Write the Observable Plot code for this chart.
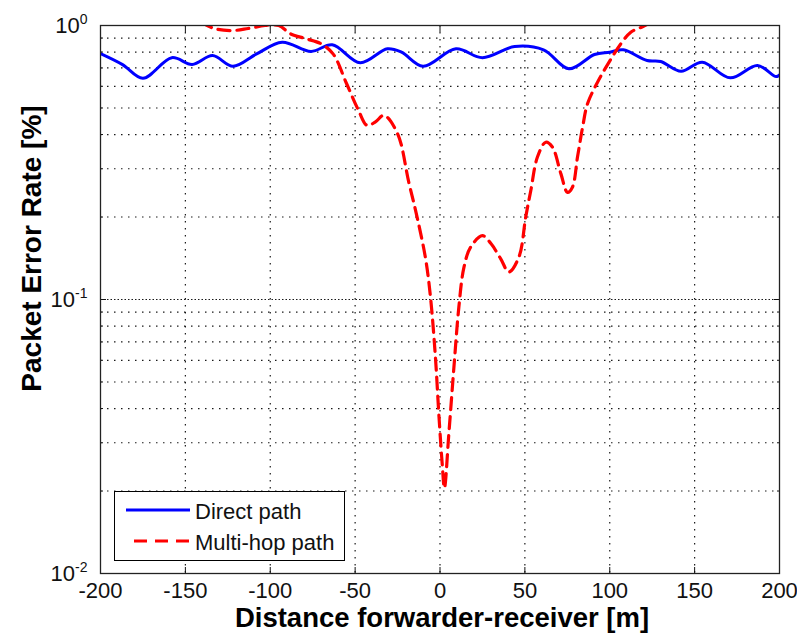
<!DOCTYPE html>
<html><head><meta charset="utf-8">
<script src="https://cdn.jsdelivr.net/npm/d3@7"></script>
<script src="https://cdn.jsdelivr.net/npm/@observablehq/plot@0.6"></script>
<style>
body{margin:0;background:#fff;font-family:"Liberation Sans",Arial,sans-serif;}
#wrap{position:relative;width:797px;height:641px;}
#legend{position:absolute;left:114px;top:491px;width:231px;height:70px;background:#fff;border:1px solid #000;box-sizing:border-box;font-size:22px;color:#111;}
#legend svg{position:absolute;left:0;top:0;}
#legend span{position:absolute;left:80px;line-height:24px;white-space:nowrap;}
</style></head><body>
<div id="wrap"></div>
<script>
const directX = [-200,-187,-175,-158,-146,-134,-122,-108,-93,-76,-63.5,-47,-31,-22.7,-10,9.4,25,44,61,76,91,100,108,122,130,142,154.5,171,187,198,200];
const directY = [0.79,0.72,0.642,0.763,0.721,0.777,0.71,0.788,0.869,0.804,0.85,0.731,0.822,0.799,0.71,0.822,0.763,0.838,0.815,0.695,0.784,0.799,0.815,0.745,0.739,0.681,0.735,0.644,0.715,0.651,0.66];
const multiX = [-141,-133,-123,-113,-103,-95,-88,-79,-70,-63,-55,-48,-43,-38,-33,-25,-18.4,-13.5,-8.5,-5.6,-2.7,-0.7,1.3,2.6,5.2,8.2,11.1,14.1,18,25,30,35.7,40.6,46.5,50.5,53.5,57.4,62.3,66.2,71.2,75.1,78,81,84,86.9,92.8,99.6,106.5,112.4,119.3,125];
const multiY = [1.03,0.975,0.958,0.975,1.0,1.0,0.932,0.895,0.857,0.788,0.613,0.49,0.432,0.445,0.47,0.403,0.268,0.2,0.141,0.102,0.0616,0.0383,0.0251,0.0205,0.0323,0.0566,0.0937,0.131,0.155,0.171,0.16,0.141,0.126,0.143,0.2,0.25,0.331,0.375,0.36,0.288,0.246,0.257,0.331,0.425,0.518,0.621,0.735,0.857,0.945,0.99,1.03];
const xTicks = [-200,-150,-100,-50,0,50,100,150,200];
const yMajor = [0.01,0.1,1];
const yMinor = [0.02,0.03,0.04,0.05,0.06,0.07,0.08,0.09,0.2,0.3,0.4,0.5,0.6,0.7,0.8,0.9];
const yExponents = ["-2","-1","0"];
const seriesNames = ["Direct path","Multi-hop path"];
const xLabel = "Distance forwarder-receiver [m]";
const yLabel = "Packet Error Rate [%]";

const direct = directX.map((x,i)=>({x,y:directY[i]}));
const multi = multiX.map((x,i)=>({x,y:multiY[i]}));
const yGrid = yMajor.concat(yMinor).filter(v=>v>0.01 && v<1);

const gridStyle = {stroke: "#000", strokeDasharray: "1.5,5.5", strokeWidth: 1.2, strokeOpacity: 0.9};
const chart = Plot.plot({
  width: 797, height: 641,
  marginLeft: 100, marginRight: 18, marginTop: 25, marginBottom: 68,
  style: {fontFamily: '"Liberation Sans", Arial, sans-serif', background: "#fff", color: "#111"},
  x: {domain: [-200, 200]},
  y: {type: "log", domain: [0.01, 1]},
  marks: [
    Plot.ruleX(xTicks.slice(1,-1), gridStyle),
    Plot.ruleY(yGrid, gridStyle),
    Plot.ruleY([0.1], {...gridStyle, strokeDashoffset: 3.5}),
    Plot.line(direct, {x: "x", y: "y", stroke: "#0000ff", strokeWidth: 3, curve: "catmull-rom", clip: true}),
    Plot.line(multi, {x: "x", y: "y", stroke: "#ff0000", strokeWidth: 3.2, strokeDasharray: "12,7", curve: "catmull-rom", clip: true}),
    Plot.axisX({anchor: "bottom", ticks: xTicks, tickSize: -6, tickPadding: 15, fontSize: 22, tickFormat: d => String(d), label: null}),
    Plot.axisX({anchor: "top", ticks: xTicks, tickSize: -6, tickFormat: () => "", label: null}),
    Plot.axisY({anchor: "left", ticks: yMajor, tickSize: -6, tickPadding: 19, fontSize: 22, tickFormat: d => "10|" + yExponents[yMajor.indexOf(d)], label: null}),
    Plot.axisY({anchor: "left", ticks: yMinor, tickSize: -3, tickFormat: () => "", label: null}),
    Plot.axisY({anchor: "right", ticks: yMajor, tickSize: -6, tickFormat: () => "", label: null}),
    Plot.axisY({anchor: "right", ticks: yMinor, tickSize: -3, tickFormat: () => "", label: null}),
    Plot.frame({stroke: "#222", strokeWidth: 1.3}),
    Plot.text([xLabel], {frameAnchor: "bottom", textAnchor: "middle", lineAnchor: "middle", dy: 45, dx: 2, fontSize: 27.5, fontWeight: "bold", fill: "#000"}),
    Plot.text([yLabel], {frameAnchor: "left", textAnchor: "middle", lineAnchor: "middle", dx: -68, dy: -51, rotate: -90, fontSize: 28, fontWeight: "bold", fill: "#000"})
  ]
});
// real superscripts for the log tick labels
chart.querySelectorAll("text").forEach(t => {
  const s = t.textContent;
  if (s.includes("|") && t.children.length <= 1) {
    const [base, exp] = s.split("|");
    while (t.firstChild) t.removeChild(t.firstChild);
    const ns = "http://www.w3.org/2000/svg";
    const a = document.createElementNS(ns, "tspan"); a.textContent = base;
    const b = document.createElementNS(ns, "tspan"); b.textContent = exp;
    b.setAttribute("dy", "-9"); b.setAttribute("font-size", "14");
    t.appendChild(a); t.appendChild(b);
  }
});
const wrap = document.getElementById("wrap");
wrap.appendChild(chart);

const leg = document.createElement("div");
leg.id = "legend";
leg.innerHTML = `
<svg width="229" height="68"><line x1="11" y1="18" x2="75" y2="18" stroke="#0000ff" stroke-width="3"/>
<line x1="19" y1="49" x2="75" y2="49" stroke="#ff0000" stroke-width="3" stroke-dasharray="13,8"/></svg>
<span style="top:8px">${seriesNames[0]}</span>
<span style="top:39px">${seriesNames[1]}</span>`;
wrap.appendChild(leg);
</script>
</body></html>
